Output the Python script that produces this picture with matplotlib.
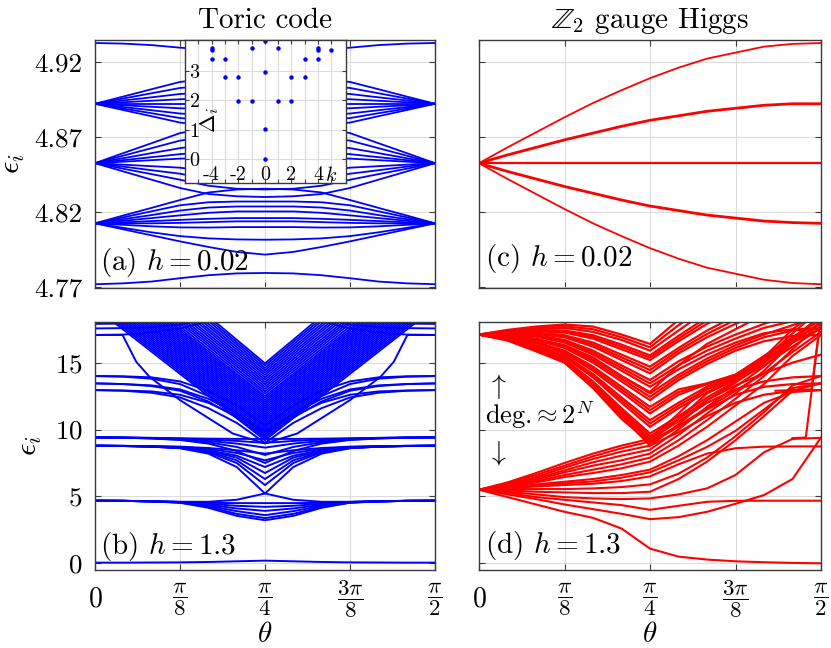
import numpy as np
import matplotlib
matplotlib.use('Agg')
import matplotlib.pyplot as plt

plt.rcParams['font.family'] = 'serif'
plt.rcParams['font.serif'] = ['cmr10']
plt.rcParams['mathtext.fontset'] = 'cm'
plt.rcParams['axes.formatter.use_mathtext'] = True

# theta grid (degrees) on which most levels were read
th = np.array([0, 7.5, 15, 22.5, 30, 37.5, 45, 52.5, 60, 67.5, 75, 82.5, 90])

# ---------------- (a) toric code, h = 0.02 ----------------
a_single = [
    [4.9324, 4.9320, 4.9310, 4.9293, 4.9280, 4.9272, 4.9270, 4.9272, 4.9280, 4.9293, 4.9310, 4.9320, 4.9324],
    [4.7720, 4.7726, 4.7738, 4.7760, 4.7780, 4.7792, 4.7795, 4.7792, 4.7780, 4.7760, 4.7738, 4.7726, 4.7720],
]
a_fan_top = [
    [4.8920, 4.8968, 4.9017, 4.9065, 4.9087, 4.9101, 4.9106, 4.9101, 4.9087, 4.9065, 4.9017, 4.8968, 4.8920],
    [4.8920, 4.8955, 4.8990, 4.9025, 4.9041, 4.9051, 4.9054, 4.9051, 4.9041, 4.9025, 4.8990, 4.8955, 4.8920],
    [4.8920, 4.8942, 4.8963, 4.8985, 4.8995, 4.9001, 4.9003, 4.9001, 4.8995, 4.8985, 4.8963, 4.8942, 4.8920],
    [4.8920, 4.8930, 4.8940, 4.8950, 4.8955, 4.8958, 4.8958, 4.8958, 4.8955, 4.8950, 4.8940, 4.8930, 4.8920],
    [4.8920, 4.8920, 4.8920, 4.8920, 4.8920, 4.8920, 4.8920, 4.8920, 4.8920, 4.8920, 4.8920, 4.8920, 4.8920],
    [4.8920, 4.8910, 4.8900, 4.8890, 4.8885, 4.8882, 4.8882, 4.8882, 4.8885, 4.8890, 4.8900, 4.8910, 4.8920],
    [4.8920, 4.8898, 4.8877, 4.8855, 4.8845, 4.8839, 4.8837, 4.8839, 4.8845, 4.8855, 4.8877, 4.8898, 4.8920],
    [4.8920, 4.8888, 4.8857, 4.8825, 4.8811, 4.8802, 4.8798, 4.8802, 4.8811, 4.8825, 4.8857, 4.8888, 4.8920],
    [4.8920, 4.8878, 4.8837, 4.8795, 4.8776, 4.8764, 4.8760, 4.8764, 4.8776, 4.8795, 4.8837, 4.8878, 4.8920],
]
a_fan_mid = [
    [4.8525, 4.8592, 4.8658, 4.8725, 4.8760, 4.8775, 4.8780, 4.8775, 4.8760, 4.8725, 4.8658, 4.8592, 4.8525],
    [4.8525, 4.8575, 4.8625, 4.8675, 4.8700, 4.8710, 4.8715, 4.8710, 4.8700, 4.8675, 4.8625, 4.8575, 4.8525],
    [4.8525, 4.8558, 4.8592, 4.8625, 4.8650, 4.8660, 4.8660, 4.8660, 4.8650, 4.8625, 4.8592, 4.8558, 4.8525],
    [4.8525, 4.8545, 4.8565, 4.8585, 4.8600, 4.8605, 4.8610, 4.8605, 4.8600, 4.8585, 4.8565, 4.8545, 4.8525],
    [4.8525, 4.8535, 4.8545, 4.8555, 4.8560, 4.8560, 4.8560, 4.8560, 4.8560, 4.8555, 4.8545, 4.8535, 4.8525],
    [4.8525, 4.8515, 4.8505, 4.8495, 4.8470, 4.8460, 4.8455, 4.8460, 4.8470, 4.8495, 4.8505, 4.8515, 4.8525],
    [4.8525, 4.8502, 4.8478, 4.8455, 4.8420, 4.8400, 4.8395, 4.8400, 4.8420, 4.8455, 4.8478, 4.8502, 4.8525],
    [4.8525, 4.8488, 4.8452, 4.8415, 4.8375, 4.8355, 4.8350, 4.8355, 4.8375, 4.8415, 4.8452, 4.8488, 4.8525],
    [4.8525, 4.8470, 4.8415, 4.8360, 4.8320, 4.8305, 4.8300, 4.8305, 4.8320, 4.8360, 4.8415, 4.8470, 4.8525],
]
a_fan_low = [
    [4.8125, 4.8177, 4.8228, 4.8280, 4.8330, 4.8350, 4.8355, 4.8350, 4.8330, 4.8280, 4.8228, 4.8177, 4.8125],
    [4.8125, 4.8165, 4.8205, 4.8245, 4.8265, 4.8270, 4.8270, 4.8270, 4.8265, 4.8245, 4.8205, 4.8165, 4.8125],
    [4.8125, 4.8153, 4.8180, 4.8210, 4.8230, 4.8237, 4.8237, 4.8237, 4.8230, 4.8210, 4.8180, 4.8153, 4.8125],
    [4.8125, 4.8142, 4.8160, 4.8178, 4.8195, 4.8204, 4.8204, 4.8204, 4.8195, 4.8178, 4.8160, 4.8142, 4.8125],
    [4.8125, 4.8132, 4.8140, 4.8148, 4.8155, 4.8160, 4.8160, 4.8160, 4.8155, 4.8148, 4.8140, 4.8132, 4.8125],
    [4.8125, 4.8125, 4.8125, 4.8128, 4.8133, 4.8138, 4.8138, 4.8138, 4.8133, 4.8128, 4.8125, 4.8125, 4.8125],
    [4.8125, 4.8115, 4.8105, 4.8098, 4.8097, 4.8100, 4.8100, 4.8100, 4.8097, 4.8098, 4.8105, 4.8115, 4.8125],
    [4.8125, 4.8095, 4.8065, 4.8040, 4.8025, 4.8018, 4.8016, 4.8018, 4.8025, 4.8040, 4.8065, 4.8095, 4.8125],
    [4.8125, 4.8085, 4.8045, 4.8005, 4.7968, 4.7935, 4.7917, 4.7935, 4.7968, 4.8005, 4.8045, 4.8085, 4.8125],
]

# inset: momentum-resolved gaps
inset_k = [-4, -4, -4, -3, -3, -2, -2, -1, -1, 0, 0, 0, 0, 1, 1, 2, 2, 3, 3, 4, 4, 4, 5]
inset_delta = [3.77, 3.71, 3.41, 3.41, 2.81, 2.81, 1.99, 1.99, 3.77, 4.0, 2.96, 1.02, 0.0,
               3.77, 1.99, 2.81, 1.99, 3.41, 2.81, 3.77, 3.71, 3.41, 3.71]
inset_ticks = [-5, -4, -3, -2, -1, 0, 1, 2, 3, 4, 5]
inset_ticklabels = ['', '-4', '', '-2', '', '0', '', '2', '', '4', '$k$']

# ---------------- (c) Z2 gauge Higgs, h = 0.02 ----------------
c_lines = [
    [4.8525, 4.863, 4.873, 4.883, 4.8925, 4.901, 4.909, 4.916, 4.922, 4.926, 4.930, 4.9318, 4.9324],
    [4.8525, 4.858, 4.863, 4.868, 4.8725, 4.877, 4.881, 4.884, 4.887, 4.889, 4.891, 4.892, 4.892],
    [4.8525, 4.8525, 4.8525, 4.8525, 4.8525, 4.8525, 4.8525, 4.8525, 4.8525, 4.8525, 4.8525, 4.8525, 4.8525],
    [4.8525, 4.847, 4.842, 4.837, 4.8325, 4.828, 4.824, 4.821, 4.818, 4.816, 4.814, 4.813, 4.8125],
    [4.8525, 4.842, 4.832, 4.822, 4.8125, 4.804, 4.796, 4.789, 4.783, 4.779, 4.775, 4.7728, 4.772],
]
c_width = [1.3, 2.0, 1.6, 2.0, 1.3]

# ---------------- (b) toric code, h = 1.3 ----------------
b_lines = [
    [0.05, 0.05, 0.06, 0.07, 0.10, 0.15, 0.20, 0.15, 0.10, 0.07, 0.06, 0.05, 0.05],
    [4.68, 4.67, 4.64, 4.60, 4.60, 4.75, 5.22, 4.75, 4.60, 4.60, 4.64, 4.67, 4.68],
    [4.68, 4.67, 4.64, 4.59, 4.52, 4.50, 4.50, 4.50, 4.52, 4.59, 4.64, 4.67, 4.68],
    [4.68, 4.67, 4.64, 4.58, 4.45, 4.30, 4.22, 4.30, 4.45, 4.58, 4.64, 4.67, 4.68],
    [4.68, 4.67, 4.63, 4.56, 4.38, 4.10, 3.92, 4.10, 4.38, 4.56, 4.63, 4.67, 4.68],
    [4.68, 4.67, 4.63, 4.55, 4.30, 3.90, 3.60, 3.90, 4.30, 4.55, 4.63, 4.67, 4.68],
    [4.68, 4.67, 4.63, 4.54, 4.22, 3.70, 3.38, 3.70, 4.22, 4.54, 4.63, 4.67, 4.68],
    [4.68, 4.67, 4.62, 4.53, 4.15, 3.55, 3.22, 3.55, 4.15, 4.53, 4.62, 4.67, 4.68],
    [8.79, 8.77, 8.72, 8.60, 8.20, 7.20, 5.22, 7.20, 8.20, 8.60, 8.72, 8.77, 8.79],
    [8.79, 8.77, 8.72, 8.62, 8.30, 7.50, 5.85, 7.50, 8.30, 8.62, 8.72, 8.77, 8.79],
    [8.79, 8.77, 8.72, 8.63, 8.35, 7.70, 6.30, 7.70, 8.35, 8.63, 8.72, 8.77, 8.79],
    [8.79, 8.77, 8.73, 8.65, 8.40, 7.90, 6.75, 7.90, 8.40, 8.65, 8.73, 8.77, 8.79],
    [8.79, 8.78, 8.74, 8.67, 8.45, 8.05, 7.20, 8.05, 8.45, 8.67, 8.74, 8.78, 8.79],
    [8.79, 8.78, 8.75, 8.70, 8.55, 8.25, 7.70, 8.25, 8.55, 8.70, 8.75, 8.78, 8.79],
    [8.79, 8.78, 8.76, 8.72, 8.62, 8.45, 8.20, 8.45, 8.62, 8.72, 8.76, 8.78, 8.79],
    [9.41, 9.39, 9.33, 9.22, 8.95, 8.40, 7.50, 8.40, 8.95, 9.22, 9.33, 9.39, 9.41],
    [9.41, 9.39, 9.34, 9.25, 9.05, 8.70, 8.10, 8.70, 9.05, 9.25, 9.34, 9.39, 9.41],
    [9.41, 9.40, 9.36, 9.28, 9.15, 8.95, 8.65, 8.95, 9.15, 9.28, 9.36, 9.40, 9.41],
    [9.41, 9.40, 9.37, 9.32, 9.25, 9.15, 9.00, 9.15, 9.25, 9.32, 9.37, 9.40, 9.41],
    [9.41, 9.40, 9.38, 9.35, 9.32, 9.30, 9.30, 9.30, 9.32, 9.35, 9.38, 9.40, 9.41],
    [14.00, 13.98, 13.90, 13.60, 12.90, 11.80, 10.30, 11.80, 12.90, 13.60, 13.90, 13.98, 14.00],
    [14.00, 13.95, 13.80, 13.40, 12.50, 11.20, 9.80, 11.20, 12.50, 13.40, 13.80, 13.95, 14.00],
    [13.45, 13.40, 13.30, 13.00, 12.30, 11.20, 9.60, 11.20, 12.30, 13.00, 13.30, 13.40, 13.45],
    [13.45, 13.40, 13.25, 12.90, 12.10, 10.90, 9.40, 10.90, 12.10, 12.90, 13.25, 13.40, 13.45],
    [12.95, 12.90, 12.75, 12.40, 11.60, 10.50, 9.00, 10.50, 11.60, 12.40, 12.75, 12.90, 12.95],
    [12.95, 12.92, 12.85, 12.60, 12.00, 11.00, 9.90, 11.00, 12.00, 12.60, 12.85, 12.92, 12.95],
    [17.56, 17.58, 17.65, 17.85, 18.30, 18.80, 19.20, 18.80, 18.30, 17.85, 17.65, 17.58, 17.56],
    [17.07, 17.10, 17.25, 17.55, 18.10, 18.70, 19.10, 18.70, 18.10, 17.55, 17.25, 17.10, 17.07],
    [17.90, 17.92, 18.10, 18.50, 19.00, 19.50, 19.80, 19.50, 19.00, 18.50, 18.10, 17.92, 17.90],
]
# level that leaves 17.07 steeply near the edges
b_steep_th = [0, 7.3, 10.9, 14.4, 22.5, 36.5, 45, 53.5, 67.5, 75.6, 79.1, 82.7, 90]
b_steep = [17.07, 17.07, 15.07, 13.95, 12.2, 9.7, 8.96, 9.7, 12.2, 13.95, 15.07, 17.07, 17.07]
# V-shaped band: angle where each level enters at the top, and its value at pi/4
v_edge = 18.3
v_start = [30.8, 30.0, 29.2, 28.3, 27.5, 26.6, 25.8, 24.9, 24.1, 23.2,
           22.4, 21.6, 20.8, 19.9, 19.1, 18.4, 17.7, 17.0, 16.3, 15.6,
           14.9, 14.2, 13.5, 12.8, 12.1, 11.4, 10.7, 10.0, 9.3, 8.6,
           7.9, 7.2, 6.5, 5.8, 5.1, 4.4, 3.7]
v_mid = [14.95, 14.78, 14.6, 14.43, 14.25, 14.08, 13.9, 13.73, 13.55, 13.38,
         13.2, 13.03, 12.85, 12.68, 12.5, 12.35, 12.2, 12.05, 11.9, 11.75,
         11.6, 11.45, 11.3, 11.15, 11.0, 10.85, 10.7, 10.55, 10.4, 10.25,
         10.1, 9.95, 9.8, 9.65, 9.5, 9.35, 9.2]

# ---------------- (d) Z2 gauge Higgs, h = 1.3 ----------------
d_low = [
    [5.50, 4.95, 4.40, 3.85, 3.40, 2.60, 1.10, 0.50, 0.28, 0.15, 0.08, 0.03, 0.00],
    [5.50, 5.15, 4.80, 4.40, 4.05, 3.70, 3.30, 3.45, 3.85, 4.45, 5.10, 6.30, 9.40],
    [5.50, 5.25, 4.95, 4.75, 4.55, 4.35, 4.00, 4.30, 4.60, 4.67, 4.68, 4.68, 4.68],
    [5.50, 5.35, 5.15, 4.95, 4.85, 4.80, 4.85, 5.15, 5.60, 6.60, 8.30, 9.30, 9.38],
    [5.50, 5.45, 5.35, 5.30, 5.25, 5.25, 5.35, 6.30, 7.60, 9.20, 11.00, 12.90, 13.45],
    [5.50, 5.55, 5.55, 5.55, 5.60, 5.70, 5.90, 6.70, 7.90, 9.50, 11.30, 13.30, 14.00],
    [5.50, 5.60, 5.75, 5.85, 5.95, 6.15, 6.50, 7.40, 8.20, 8.60, 8.72, 8.74, 8.74],
    [5.50, 5.62, 5.82, 5.98, 6.12, 6.40, 6.80, 7.70, 8.70, 9.90, 11.50, 13.10, 13.45],
    [5.50, 5.65, 5.90, 6.10, 6.30, 6.60, 7.00, 8.00, 9.20, 10.60, 12.00, 12.80, 12.95],
    [5.50, 5.70, 6.05, 6.45, 6.75, 7.10, 7.60, 8.80, 10.20, 11.80, 13.40, 15.50, 17.07],
    [5.50, 5.75, 6.15, 6.60, 7.00, 7.40, 7.90, 9.20, 10.70, 12.30, 14.00, 16.00, 18.00],
    [5.50, 5.80, 6.25, 6.80, 7.30, 7.70, 8.20, 9.60, 11.20, 12.70, 14.40, 16.50, 17.56],
    [5.50, 5.85, 6.35, 6.95, 7.55, 8.05, 8.50, 10.00, 11.70, 13.20, 14.70, 16.60, 18.50],
    [5.50, 5.90, 6.45, 7.15, 7.80, 8.35, 8.80, 10.40, 12.20, 13.50, 15.00, 16.80, 18.50],
    [5.50, 6.00, 6.60, 7.30, 8.00, 8.60, 9.10, 10.80, 12.70, 13.70, 15.20, 17.20, 19.00],
    [5.50, 6.05, 6.75, 7.50, 8.20, 8.80, 9.30, 11.20, 13.20, 13.90, 15.40, 17.50, 19.00],
]
d_up = [
    [17.10, 17.45, 17.70, 17.85, 17.70, 17.10, 16.40, 18.20, 19.50, 20.00, 20.00, 20.00, 20.00],
    [17.10, 17.40, 17.62, 17.72, 17.50, 16.90, 16.15, 17.80, 19.20, 20.00, 20.00, 20.00, 20.00],
    [17.10, 17.35, 17.55, 17.60, 17.30, 16.70, 15.90, 17.40, 18.90, 20.00, 20.00, 20.00, 20.00],
    [17.10, 17.30, 17.45, 17.40, 17.05, 16.35, 15.55, 17.00, 18.40, 19.50, 20.00, 20.00, 20.00],
    [17.10, 17.28, 17.40, 17.33, 16.93, 16.18, 15.38, 16.80, 18.15, 19.30, 20.00, 20.00, 20.00],
    [17.10, 17.25, 17.35, 17.25, 16.80, 16.00, 15.20, 16.60, 17.90, 19.00, 20.00, 20.00, 20.00],
    [17.10, 17.20, 17.25, 17.05, 16.50, 15.60, 14.70, 16.10, 17.40, 18.50, 19.50, 20.00, 20.00],
    [17.10, 17.18, 17.20, 16.98, 16.35, 15.40, 14.45, 15.90, 17.15, 18.20, 19.20, 19.80, 20.00],
    [17.10, 17.15, 17.15, 16.90, 16.20, 15.20, 14.20, 15.70, 16.90, 17.90, 18.80, 19.50, 20.00],
    [17.10, 17.10, 17.05, 16.70, 15.90, 14.80, 13.70, 15.10, 16.20, 17.10, 17.90, 18.60, 19.20],
    [17.10, 17.08, 17.00, 16.60, 15.75, 14.60, 13.45, 14.80, 15.90, 16.80, 17.60, 18.10, 18.60],
    [17.10, 17.05, 16.95, 16.50, 15.60, 14.40, 13.20, 14.50, 15.60, 16.50, 17.20, 17.50, 17.56],
    [17.10, 17.00, 16.80, 16.30, 15.30, 14.00, 12.70, 14.10, 15.30, 16.30, 17.10, 17.80, 18.50],
    [17.10, 16.98, 16.75, 16.20, 15.15, 13.80, 12.45, 13.90, 15.10, 16.10, 16.90, 17.40, 17.56],
    [17.10, 16.90, 16.60, 16.30, 15.40, 14.00, 12.80, 14.80, 16.40, 17.50, 18.60, 19.50, 20.00],
    [17.10, 16.95, 16.70, 16.10, 15.00, 13.60, 12.20, 13.70, 14.90, 15.90, 16.60, 17.00, 17.07],
    [17.10, 16.90, 16.55, 15.90, 14.70, 13.20, 11.70, 13.00, 13.45, 14.10, 15.50, 16.90, 18.20],
    [17.10, 16.88, 16.50, 15.80, 14.55, 13.00, 11.45, 12.80, 13.40, 14.05, 15.45, 16.85, 18.30],
    [17.10, 16.85, 16.45, 15.70, 14.40, 12.80, 11.20, 12.60, 13.40, 14.10, 15.40, 16.80, 18.50],
    [17.10, 16.82, 16.30, 15.55, 14.15, 12.40, 10.70, 12.00, 13.20, 14.00, 15.20, 16.60, 18.00],
    [17.10, 16.81, 16.25, 15.48, 14.00, 12.20, 10.45, 11.80, 13.00, 13.90, 15.10, 16.55, 18.00],
    [17.10, 16.80, 16.20, 15.40, 13.90, 12.00, 10.20, 11.60, 12.80, 13.80, 15.00, 16.50, 18.00],
    [17.10, 16.78, 16.10, 15.25, 13.60, 11.60, 9.70, 11.00, 12.40, 13.60, 14.80, 16.20, 17.60],
    [17.10, 16.76, 16.05, 15.20, 13.50, 11.45, 9.50, 10.80, 12.20, 13.30, 14.20, 15.00, 15.60],
    [17.10, 16.75, 16.00, 15.15, 13.40, 11.30, 9.30, 10.60, 12.00, 13.00, 13.60, 13.90, 14.00],
    [17.10, 16.72, 15.95, 15.10, 13.30, 11.15, 9.10, 10.30, 11.60, 12.90, 14.20, 15.80, 17.30],
    [17.10, 16.70, 15.90, 15.05, 13.20, 11.00, 8.80, 9.80, 11.00, 12.00, 12.60, 12.90, 12.95],
    [17.10, 16.65, 15.85, 15.00, 13.10, 10.80, 9.00, 10.20, 11.50, 12.60, 13.20, 13.40, 13.45],
]
d_steep_th = [[82.5, 86.0, 90.0], [78.0, 87.5, 90.0]]
d_steep = [[9.36, 9.40, 18.5], [12.9, 13.0, 18.5]]

xtick_vals = [0, np.pi / 8, np.pi / 4, 3 * np.pi / 8, np.pi / 2]
xtick_labels = ['$0$', r'$\dfrac{\pi}{8}$', r'$\dfrac{\pi}{4}$', r'$\dfrac{3\pi}{8}$', r'$\dfrac{\pi}{2}$']
a_yticks = [4.77, 4.82, 4.87, 4.92]
b_yticks = [0, 5, 10, 15]

blue = (0, 0, 1)
red = (1, 0, 0)
frame = '#3a3a3a'
gridc = '#dcdcdc'


def style(ax, fs=19.5):
    ax.set_xlim(0, np.pi / 2)
    ax.set_xticks(xtick_vals)
    ax.grid(True, color=gridc, lw=0.8)
    ax.set_axisbelow(True)
    ax.tick_params(direction='in', top=True, right=True, length=4, width=0.8,
                   color=frame, labelsize=fs, pad=9)
    ax.tick_params(axis='x', pad=21)
    for s in ax.spines.values():
        s.set_color(frame)
        s.set_linewidth(1.0)


def theta_labels(ax):
    ax.set_xticklabels(xtick_labels)
    for i, lab in enumerate(ax.get_xticklabels()):
        lab.set_verticalalignment('center')
        lab.set_fontsize(20 if i == 0 else 16.5)
    ax.set_xlabel(r'$\theta$', fontsize=21, va='baseline')
    ax.xaxis.set_label_coords(0.5, -0.29)


fig = plt.figure(figsize=(8.31, 6.48), dpi=100)
W, H = 831.0, 648.0
ax_a = fig.add_axes([95 / W, 1 - 288 / H, 340 / W, 248 / H])
ax_c = fig.add_axes([479 / W, 1 - 288 / H, 342 / W, 248 / H])
ax_b = fig.add_axes([95 / W, 1 - 570 / H, 340 / W, 248 / H])
ax_d = fig.add_axes([479 / W, 1 - 570 / H, 342 / W, 248 / H])

x13 = np.deg2rad(th)

# (a)
for y in a_single + a_fan_top + a_fan_mid + a_fan_low:
    ax_a.plot(x13, y, color=blue, lw=1.3)
style(ax_a)
ax_a.set_ylim(4.7695, 4.9344)
ax_a.set_yticks(a_yticks)
ax_a.set_yticklabels(['%.2f' % v for v in a_yticks])
ax_a.set_xticklabels([])
ax_a.set_ylabel(r'$\epsilon_i$', fontsize=22)
ax_a.yaxis.set_label_coords(-0.2, 0.5)
ax_a.set_title('Toric code', fontsize=21, pad=9)
ax_a.text(0.015, 0.103, '(a) $h=0.02$', transform=ax_a.transAxes, fontsize=21, va='center', ha='left')

# (c)
for y, w in zip(c_lines, c_width):
    ax_c.plot(x13, y, color=red, lw=w)
style(ax_c)
ax_c.set_ylim(4.7695, 4.9344)
ax_c.set_yticks(a_yticks)
ax_c.set_yticklabels([])
ax_c.set_xticklabels([])
ax_c.set_title(r'$\mathbb{Z}_2$ gauge Higgs', fontsize=21, pad=9)
ax_c.text(0.018, 0.12, '(c) $h=0.02$', transform=ax_c.transAxes, fontsize=21, va='center', ha='left')

# (b)
for y in b_lines:
    ax_b.plot(x13, y, color=blue, lw=1.4)
ax_b.plot(np.deg2rad(b_steep_th), b_steep, color=blue, lw=1.4)
for s, m in zip(v_start, v_mid):
    ax_b.plot(np.deg2rad([s, 45, 90 - s]), [v_edge, m, v_edge], color=blue, lw=1.3)
style(ax_b)
ax_b.set_ylim(-0.5, 18.04)
ax_b.set_yticks(b_yticks)
theta_labels(ax_b)
ax_b.set_ylabel(r'$\epsilon_i$', fontsize=22)
ax_b.yaxis.set_label_coords(-0.15, 0.5)
ax_b.text(0.015, 0.094, '(b) $h=1.3$', transform=ax_b.transAxes, fontsize=21, va='center', ha='left')

# (d)
for y in d_low:
    ax_d.plot(x13, y, color=red, lw=1.5)
for y in d_up:
    ax_d.plot(x13, y, color=red, lw=1.6)
for t, y in zip(d_steep_th, d_steep):
    ax_d.plot(np.deg2rad(t), y, color=red, lw=1.5)
style(ax_d)
ax_d.set_ylim(-0.5, 18.04)
ax_d.set_yticks(b_yticks)
ax_d.set_yticklabels([])
theta_labels(ax_d)
ax_d.text(0.018, 0.1, '(d) $h=1.3$', transform=ax_d.transAxes, fontsize=21, va='center', ha='left')
ax_d.text(0.022, 0.74, r'$\uparrow$', transform=ax_d.transAxes, fontsize=20, va='center', ha='left')
ax_d.text(0.018, 0.625, r'deg.$\approx 2^N$', transform=ax_d.transAxes, fontsize=19, va='center', ha='left')
ax_d.text(0.022, 0.47, r'$\downarrow$', transform=ax_d.transAxes, fontsize=20, va='center', ha='left')

# inset of (a)
ax_in = fig.add_axes([185 / W, 1 - 183 / H, 161 / W, 143 / H])
ax_in.plot(inset_k, inset_delta, 'o', color=blue, ms=3.2, mec='none')
ax_in.set_xlim(-6, 6.1)
ax_in.set_ylim(-0.8, 4.05)
ax_in.set_xticks(inset_ticks)
ax_in.set_xticklabels(inset_ticklabels)
ax_in.set_yticks([0, 1, 2, 3])
ax_in.grid(True, color=gridc, lw=0.8)
ax_in.set_axisbelow(True)
ax_in.tick_params(direction='in', top=True, right=True, length=3, width=0.8,
                  color=frame, labelsize=14.5)
ax_in.tick_params(axis='y', pad=-3)
ax_in.tick_params(axis='x', pad=-12)
for lab in ax_in.get_yticklabels():
    lab.set_horizontalalignment('left')
for s in ax_in.spines.values():
    s.set_color(frame)
    s.set_linewidth(1.0)
ax_in.set_ylabel(r'$\Delta_i$', fontsize=16)
ax_in.yaxis.set_label_coords(0.225, 0.44)

fig.savefig('out.png', dpi=100)
